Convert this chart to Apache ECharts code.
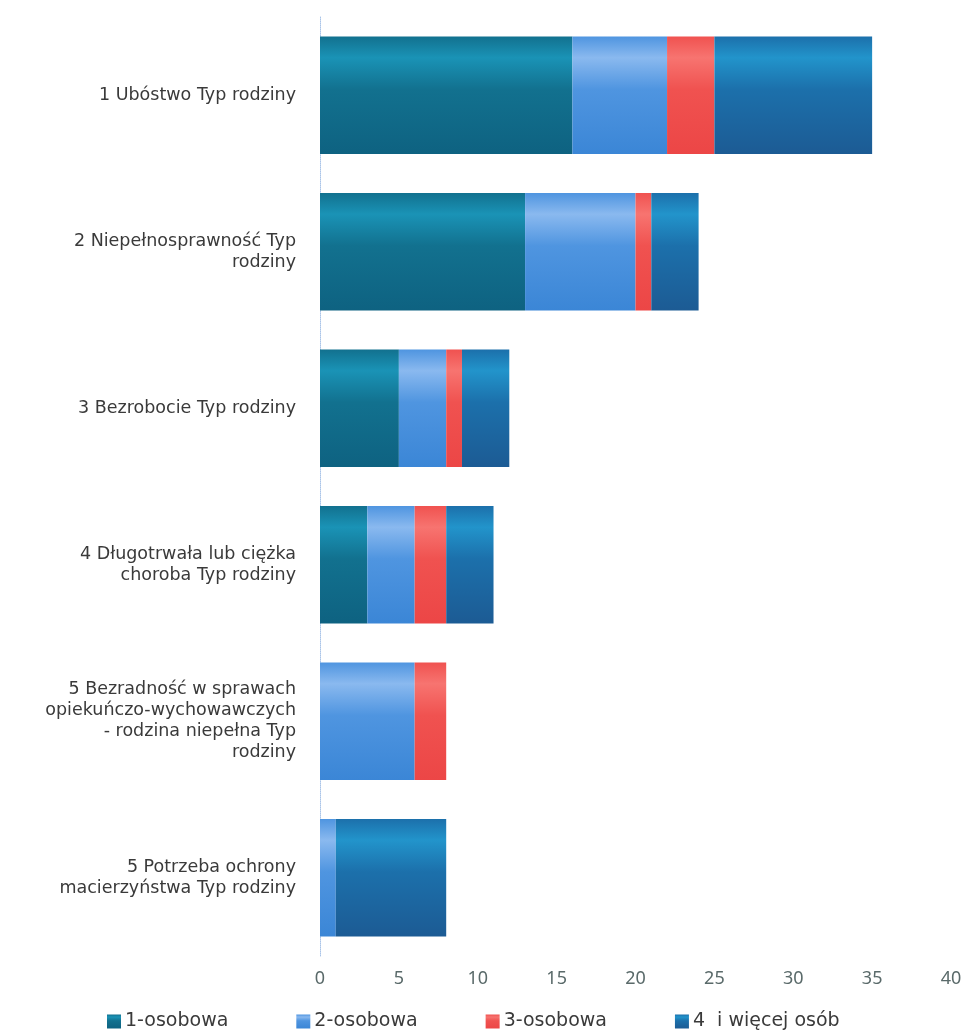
<!DOCTYPE html>
<html>
<head>
<meta charset="utf-8">
<script src="https://cdn.jsdelivr.net/npm/echarts@6/dist/echarts.min.js"></script>
<style>html,body{margin:0;padding:0;background:#fff}#c{width:968px;height:1036px}</style>
</head>
<body>
<div id="c"></div>
<script>
const categories = [
  "1 Ubóstwo Typ rodziny",
  "2 Niepełnosprawność Typ\nrodziny",
  "3 Bezrobocie Typ rodziny",
  "4 Długotrwała lub ciężka\nchoroba Typ rodziny",
  "5 Bezradność w sprawach\nopiekuńczo-wychowawczych\n- rodzina niepełna Typ\nrodziny",
  "5 Potrzeba ochrony\nmacierzyństwa Typ rodziny"
];
const seriesNames = ["1-osobowa", "2-osobowa", "3-osobowa", "4  i więcej osób"];
const osob1 = [16, 13, 5, 3, 0, 0];
const osob2 = [6, 7, 3, 3, 6, 1];
const osob3 = [3, 1, 1, 2, 2, 0];
const osob4 = [10, 3, 3, 3, 0, 7];
const xTicks = [0, 5, 10, 15, 20, 25, 30, 35, 40];

const grad = (c0, c1, c2) => new echarts.graphic.LinearGradient(0, 0, 0, 1, [
  {offset: 0, color: c1}, {offset: 0.18, color: c0}, {offset: 0.45, color: c1}, {offset: 1, color: c2}
]);
const colors = [
  grad('#1a93b6', '#12718f', '#0e6281'),
  grad('#8ab9ef', '#4f95e0', '#3b86d6'),
  grad('#f77470', '#f05250', '#ec4646'),
  grad('#2294cb', '#1c70ab', '#1c5b94')
];
const data = [osob1, osob2, osob3, osob4];

const chart = echarts.init(document.getElementById('c'));
chart.setOption({
  animation: false,
  textStyle: {fontFamily: 'DejaVu Sans'},
  grid: {left: 320, right: 17, top: 17, bottom: 80, containLabel: false},
  legend: {
    bottom: 0, left: 102, itemWidth: 14, itemHeight: 14, itemGap: 68,
    icon: 'rect',
    textStyle: {fontSize: 19, color: '#3a3a3a', fontFamily: 'DejaVu Sans', padding: [0, 0, 0, -1]},
    data: seriesNames
  },
  xAxis: {
    type: 'value', min: xTicks[0], max: xTicks[xTicks.length - 1], interval: 5,
    axisLine: {show: false}, axisTick: {show: false}, splitLine: {show: false},
    axisLabel: {fontSize: 18, color: '#5a6a6a', margin: 14, fontFamily: 'Noto Sans'}
  },
  yAxis: {
    type: 'category', inverse: true, data: categories,
    axisLine: {show: true, lineStyle: {color: '#a9c4e8', width: 1, type: 'dotted'}},
    axisTick: {show: false},
    axisLabel: {fontSize: 17.5, color: '#3a3a3a', margin: 24, lineHeight: 21, align: 'right'}
  },
  series: seriesNames.map((n, i) => ({
    name: n, type: 'bar', stack: 'total', data: data[i],
    barCategoryGap: '25%',
    itemStyle: {color: colors[i]}
  }))
});
</script>
</body>
</html>
